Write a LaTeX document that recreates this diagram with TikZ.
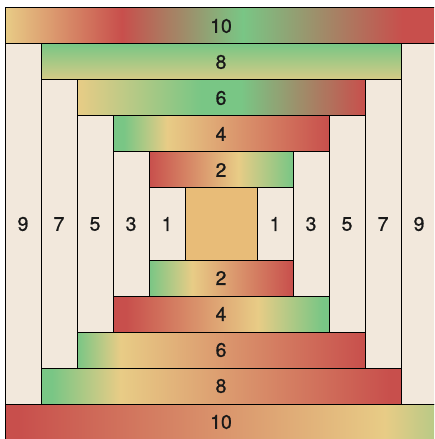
\documentclass[tikz,border=0pt]{standalone}
\usepackage{fontspec}
\setmainfont{TeX Gyre Heros}
\newfontfamily\lblfont[FakeBold=0.9]{TeX Gyre Heros}
\definecolor{cream}{HTML}{F2E8DC}
\definecolor{core}{HTML}{E8BC78}
\definecolor{qred}{HTML}{C84F4C}
\definecolor{qgreen}{HTML}{79C685}
\definecolor{qyellow}{HTML}{E8CC86}
\colorlet{qtip}{qgreen!45!qyellow}
% strip shadings, the strip itself covers 25bp..75bp
\pgfdeclarehorizontalshading{topten}{100bp}{color(0bp)=(qyellow); color(25bp)=(qyellow); color(38.5bp)=(qred); color(52.5bp)=(qgreen); color(71bp)=(qred); color(100bp)=(qred)}
\pgfdeclarehorizontalshading{topsix}{100bp}{color(0bp)=(qyellow); color(25bp)=(qyellow); color(46.5bp)=(qgreen); color(53.5bp)=(qgreen); color(75bp)=(qred); color(100bp)=(qred)}
\pgfdeclarehorizontalshading{topfour}{100bp}{color(0bp)=(qgreen); color(27.5bp)=(qgreen); color(37.5bp)=(qyellow); color(75bp)=(qred); color(100bp)=(qred)}
\pgfdeclarehorizontalshading{toptwo}{100bp}{color(0bp)=(qred); color(25bp)=(qred); color(56bp)=(qyellow); color(75bp)=(qgreen); color(100bp)=(qgreen)}
\pgfdeclarehorizontalshading{bottwo}{100bp}{color(0bp)=(qgreen); color(25bp)=(qgreen); color(40bp)=(qyellow); color(75bp)=(qred); color(100bp)=(qred)}
\pgfdeclarehorizontalshading{botfour}{100bp}{color(0bp)=(qred); color(28bp)=(qred); color(58.5bp)=(qyellow); color(73.5bp)=(qgreen); color(100bp)=(qgreen)}
\pgfdeclarehorizontalshading{botsix}{100bp}{color(0bp)=(qgreen); color(25bp)=(qgreen); color(32.5bp)=(qyellow); color(75bp)=(qred); color(100bp)=(qred)}
\pgfdeclarehorizontalshading{boteight}{100bp}{color(0bp)=(qgreen); color(26.5bp)=(qgreen); color(36bp)=(qyellow); color(73.5bp)=(qred); color(100bp)=(qred)}
\pgfdeclarehorizontalshading{botten}{100bp}{color(0bp)=(qred); color(26.5bp)=(qred); color(69bp)=(qyellow); color(75bp)=(qtip); color(100bp)=(qtip)}
\begin{document}
\begin{tikzpicture}[x=36pt,y=-36pt,line width=1pt]
\tikzset{lbl/.style={font=\lblfont\fontsize{19.5}{23}\selectfont, text=black!90}}
\useasboundingbox (-0.139,-0.222) rectangle (11.917,11.972);
\clip (-0.139,-0.222) rectangle (11.917,11.972);
% odd strips, left and right
\foreach \k in {1,...,5}{
  \pgfmathtruncatemacro\n{2*\k-1};
  \draw[fill=cream] (5-\k,6-\k) rectangle (6-\k,6+\k);
  \draw[fill=cream] (6+\k,6-\k) rectangle (7+\k,6+\k);
  \node[lbl] (l\n) at (5.5-\k,6) {\n};
  \node[lbl] (r\n) at (6.5+\k,6) {\n};
}
\draw[fill=core] (5,5) rectangle (7,7);
% even strips, top
\shadedraw[shading=topten] (0,0) rectangle (12,1);
\node[lbl] (t10) at (6,0.5) {10};
\shadedraw[top color=qgreen, bottom color=qyellow!85!qgreen] (1,1) rectangle (11,2);
\node[lbl] (t8) at (6,1.5) {8};
\shadedraw[shading=topsix] (2,2) rectangle (10,3);
\node[lbl] (t6) at (6,2.5) {6};
\shadedraw[shading=topfour] (3,3) rectangle (9,4);
\node[lbl] (t4) at (6,3.5) {4};
\shadedraw[shading=toptwo] (4,4) rectangle (8,5);
\node[lbl] (t2) at (6,4.5) {2};
% even strips, bottom
\shadedraw[shading=bottwo] (4,7) rectangle (8,8);
\node[lbl] (b2) at (6,7.5) {2};
\shadedraw[shading=botfour] (3,8) rectangle (9,9);
\node[lbl] (b4) at (6,8.5) {4};
\shadedraw[shading=botsix] (2,9) rectangle (10,10);
\node[lbl] (b6) at (6,9.5) {6};
\shadedraw[shading=boteight] (1,10) rectangle (11,11);
\node[lbl] (b8) at (6,10.5) {8};
\shadedraw[shading=botten] (0,11) rectangle (12,12);
\node[lbl] (b10) at (6,11.5) {10};
\end{tikzpicture}
\end{document}
